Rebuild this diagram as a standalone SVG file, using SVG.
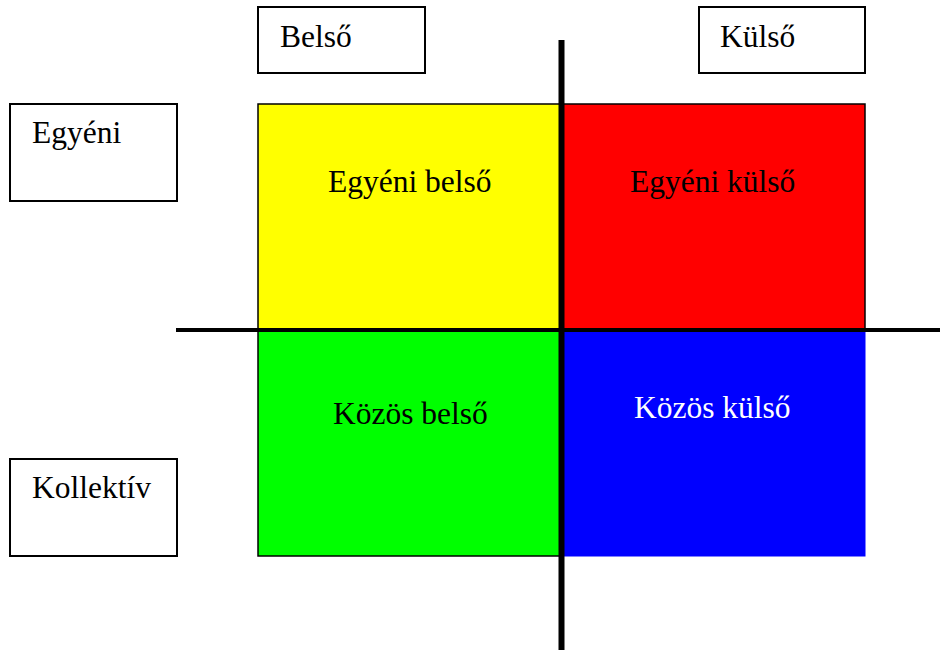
<svg xmlns="http://www.w3.org/2000/svg" width="940" height="650" viewBox="0 0 940 650">
<style>
  .box { fill: #ffffff; stroke: #000000; stroke-width: 2; }
  .quad { stroke: #000000; stroke-width: 1.5; }
  .lbl { font-family: "Liberation Serif", "Times New Roman", serif; font-size: 31.5px; fill: #000000; }
  .axis { stroke: #000000; fill: none; }
</style>
<rect width="940" height="650" fill="#ffffff"/>
<g id="header-belso">
  <rect class="box" x="258" y="7" width="167" height="66"/>
  <text class="lbl" x="280" y="47">Belső</text>
</g>
<g id="header-kulso">
  <rect class="box" x="699" y="7" width="166" height="66"/>
  <text class="lbl" x="720" y="47">Külső</text>
</g>
<g id="row-egyeni">
  <rect class="box" x="10" y="104" width="167" height="97"/>
  <text class="lbl" x="32" y="143">Egyéni</text>
</g>
<g id="row-kollektiv">
  <rect class="box" x="10" y="459" width="167" height="97"/>
  <text class="lbl" x="32" y="498">Kollektív</text>
</g>
<g id="q-egyeni-belso">
  <rect class="quad" x="258" y="104" width="303" height="226" fill="#ffff00"/>
  <text class="lbl" x="328" y="192">Egyéni belső</text>
</g>
<g id="q-egyeni-kulso">
  <rect class="quad" x="562" y="104" width="303" height="226" fill="#ff0000"/>
  <text class="lbl" x="630" y="192">Egyéni külső</text>
</g>
<g id="q-kozos-belso">
  <rect class="quad" x="258" y="330" width="303" height="226" fill="#00ff00"/>
  <text class="lbl" x="333" y="424">Közös belső</text>
</g>
<g id="q-kozos-kulso">
  <rect x="562" y="330" width="303" height="226" fill="#0000ff" stroke="#0000ff" stroke-width="1"/>
  <text class="lbl" x="634" y="418" style="fill:#ffffff">Közös külső</text>
</g>
<g id="connectors">
  <line class="axis" x1="176" y1="330" x2="940" y2="330" stroke-width="4"/>
  <line class="axis" x1="561.5" y1="40" x2="561.5" y2="650" stroke-width="6"/>
</g>
</svg>
